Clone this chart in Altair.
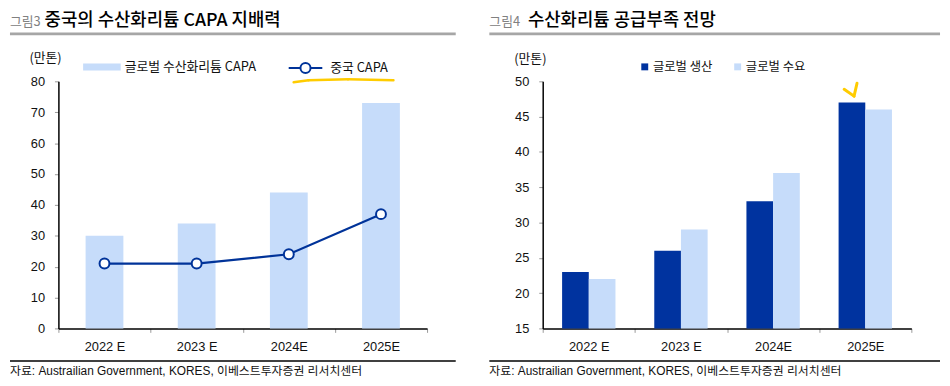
import altair as alt
import pandas as pd

# ---------------- data ----------------
years = ["2022 E", "2023 E", "2024E", "2025E"]
global_capa = [30, 34, 44, 73]
china_capa = [21, 21, 24, 37]
production = [23, 26, 33, 47]
demand = [22, 29, 37, 46]

left_series = ["글로벌 수산화리튬 CAPA", "중국 CAPA"]
right_series = ["글로벌 생산", "글로벌 수요"]
left_ticks = [0, 10, 20, 30, 40, 50, 60, 70, 80]
right_ticks = [15, 20, 25, 30, 35, 40, 45, 50]

title_left = ("그림3", "중국의 수산화리튬 CAPA 지배력")
title_right = ("그림4", "수산화리튬 공급부족 전망")
unit = "(만톤)"
source = "자료: Austrailian Government, KORES, 이베스트투자증권 리서치센터"

# ---------------- style ----------------
KR = "Noto Sans CJK KR"
NUM = "Liberation Sans"
SRC_FONT = "Liberation Sans, Noto Sans CJK KR"
LIGHT = "#C6DCFA"
NAVY = "#00339F"
LINE = "#003399"
W, H = 373, 250

dfL = pd.DataFrame({"year": years, "capa": global_capa, "china": china_capa,
                    "s1": left_series[0], "s2": left_series[1]})
dfR = pd.DataFrame({
    "year": years * 2,
    "series": [right_series[0]] * 4 + [right_series[1]] * 4,
    "v": production + demand,
})


def x_enc():
    return alt.X("year:N", sort=years,
                 scale=alt.Scale(paddingInner=0, paddingOuter=0),
                 axis=alt.Axis(title=None, tickBand="extent", labelAngle=0,
                               domainColor="black", domainWidth=1.5,
                               tickColor="#999999", tickSize=4,
                               labelFont=NUM, labelFontSize=13,
                               labelColor="#111111", labelPadding=8))


def y_axis(values, tx, ty):
    return alt.Axis(values=values, title=unit, titleAngle=0, titleX=tx, titleY=ty,
                    titleAlign="center", titleBaseline="middle", titleFont=KR,
                    titleFontSize=13, titleFontWeight="normal", titleColor="#111111",
                    domainColor="black", domainWidth=1.5, tickColor="#999999",
                    tickSize=4, labelPadding=10, grid=False, labelFont=NUM,
                    labelFontSize=13, labelColor="#111111")


one = alt.Data(values=[{"k": 1}])


def text(t, x, y, size, color="#111111", font=KR, baseline="top", weight="normal"):
    return alt.Chart(one).mark_text(text=t, align="left", baseline=baseline,
                                    fontSize=size, font=font, color=color,
                                    fontWeight=weight).encode(
        x=alt.value(x), y=alt.value(y))


def rule(x1, y1, x2, y2, color, w, cap="butt"):
    return alt.Chart(one).mark_rule(color=color, strokeWidth=w, strokeCap=cap).encode(
        x=alt.value(x1), y=alt.value(y1), x2=alt.value(x2), y2=alt.value(y2))


def decorations(x0, tmain_x, titles):
    return [
        text(titles[0], x0, -66, 13, color="#808080"),
        text(titles[1], tmain_x, -70, 18, color="#000000", weight=500),
        rule(x0, -48, 402, -48, "#A6A6A6", 3),
        rule(x0, 283, 402, 283, "black", 1.5),
        text(source, x0, 293, 12, font=SRC_FONT, baseline="middle"),
    ]


# ---------------- left panel ----------------
yL = alt.Y("capa:Q", scale=alt.Scale(domain=[0, 80]), axis=y_axis(left_ticks, -13.5, -24))
yL2 = alt.Y("china:Q", scale=alt.Scale(domain=[0, 80]), axis=y_axis(left_ticks, -13.5, -24))

bars_L = alt.Chart(dfL).mark_bar(width={"band": 0.41}).encode(
    x=x_enc(), y=yL,
    color=alt.Color("s1:N", scale=alt.Scale(domain=[left_series[0]], range=[LIGHT]),
                    legend=alt.Legend(title=None, orient="none", legendX=25, legendY=-33.5,
                                      symbolType="M-1,-0.184H1V0.184H-1Z", symbolSize=1444,
                                      symbolStrokeWidth=0, labelOffset=4, padding=0,
                                      labelFont=KR, labelFontSize=13, labelColor="#111111")))

line_L = alt.Chart(dfL).mark_line(strokeWidth=2.2).encode(
    x=x_enc(), y=yL2,
    stroke=alt.Stroke("s2:N", scale=alt.Scale(domain=[left_series[1]], range=[LINE]),
                      legend=alt.Legend(title=None, orient="none", legendX=232, legendY=-31.5,
                                        symbolType="M-1,0H-0.33M0.33,0H1M0.3,0A0.3,0.3,0,1,1,-0.3,0A0.3,0.3,0,1,1,0.3,0",
                                        symbolSize=1156, symbolStrokeWidth=2,
                                        symbolFillColor="white", labelOffset=7, padding=0,
                                        labelFont=KR, labelFontSize=13, labelColor="#111111")))

pts_L = alt.Chart(dfL).mark_point(filled=True, fill="white", stroke=LINE, strokeWidth=2,
                                   size=100, opacity=1).encode(x=x_enc(), y=yL2)

anno_L = [
    rule(238, 1, 253, -1, "#FFCC00", 2.5, "round"),
    rule(253, -1, 293, -2, "#FFCC00", 2.5, "round"),
    rule(293, -2, 339, -1, "#FFCC00", 2.5, "round"),
]

left = alt.layer(bars_L, line_L, pts_L, *anno_L,
                 *decorations(-49, -14, title_left)).properties(width=W, height=H)

# ---------------- right panel ----------------
bars_R = alt.Chart(dfR).mark_bar().encode(
    x=x_enc(),
    xOffset=alt.XOffset("series:N", sort=right_series,
                        scale=alt.Scale(paddingInner=0, paddingOuter=0.727)),
    y=alt.Y("v:Q", scale=alt.Scale(domain=[15, 50], zero=False),
            axis=y_axis(right_ticks, -13, -23)),
    y2=alt.datum(15),
    color=alt.Color("series:N", sort=right_series,
                    scale=alt.Scale(domain=right_series, range=[NAVY, LIGHT]),
                    legend=alt.Legend(title=None, orient="none", direction="horizontal",
                                      legendX=97, legendY=-21, symbolType="square",
                                      symbolSize=49, symbolStrokeWidth=0, labelOffset=2,
                                      columnPadding=19, padding=0, labelFont=KR,
                                      labelFontSize=12.5, labelColor="#111111")))

anno_R = [
    rule(305, 8, 315, 15, "#FFCC00", 3, "round"),
    rule(315, 15, 318, 2, "#FFCC00", 3, "round"),
]

right = alt.layer(bars_R, *anno_R,
                  *decorations(-54, -15, title_right)).properties(width=W, height=H)

chart = (alt.hconcat(left, right, spacing=30)
         .resolve_scale(color="independent", stroke="independent", x="independent",
                        y="independent", xOffset="independent")
         .resolve_legend(color="independent", stroke="independent")
         .properties(padding={"top": 2, "left": 0, "right": 0, "bottom": 0})
         .configure_view(stroke=None))

chart.save("out.html", embed_options={"renderer": "svg", "actions": False})
